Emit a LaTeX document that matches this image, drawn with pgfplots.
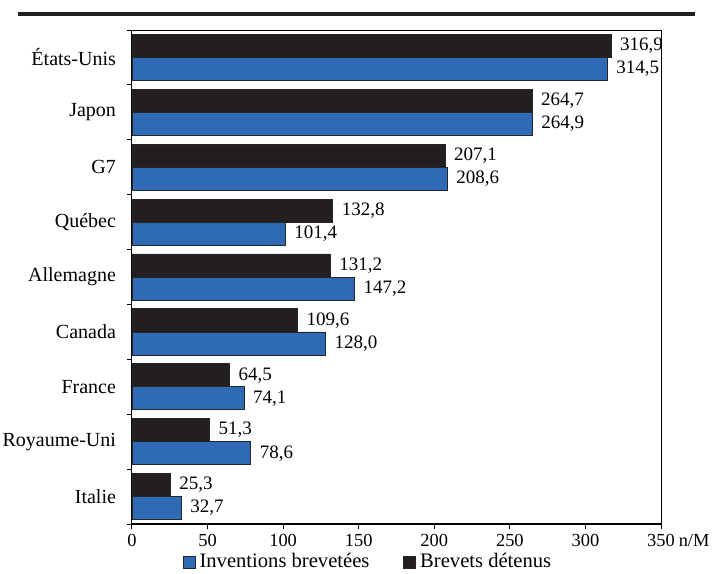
\documentclass[border=0pt]{standalone}
\usepackage{fontspec}
\setmainfont{Liberation Serif}
\usepackage{pgfplots}
\pgfplotsset{compat=1.18}
\definecolor{barblue}{RGB}{47,106,182}
\definecolor{barblack}{RGB}{35,31,32}

% one row per country, top to bottom
\pgfplotstableread{
pos inventions brevets
0 314.5 316.9
1 264.9 264.7
2 208.6 207.1
3 101.4 132.8
4 147.2 131.2
5 128.0 109.6
6 74.1 64.5
7 78.6 51.3
8 32.7 25.3
}\patents

\begin{document}
\begin{tikzpicture}
\useasboundingbox (0pt,0pt) rectangle (356pt,286.5pt);
\draw[line width=2pt, barblack] (9pt,279.5pt) -- (347.5pt,279.5pt);
\begin{axis}[
    at={(66pt,24.5pt)}, anchor=south west,
    scale only axis, width=264.5pt, height=247pt,
    xbar,
    legend image code/.code={\draw[#1,draw=black!85,line width=0.4pt] (0pt,-3pt) rectangle (6pt,3pt);},
    bar width=0.42,
    xmin=0, xmax=350, ymin=-0.5, ymax=8.5,
    y dir=reverse,
    font=\fontsize{10}{12}\selectfont,
    xtick={0,50,...,350},
    xticklabels={0,50,100,150,200,250,300,{350\rlap{\hspace{2pt}n/M}}},
    xticklabel style={font=\fontsize{9.2}{11}\selectfont, yshift=1pt},
    ytick={0,...,8},
    yticklabels={États-Unis,Japon,G7,Québec,Allemagne,Canada,France,Royaume-Uni,Italie},
    minor ytick={-0.5,0.5,...,8.5},
    xtick pos=bottom, ytick pos=left,
    tick align=outside,
    major tick length=2.5pt, minor tick length=2.5pt,
    major y tick style={draw=none},
    minor y tick style={black, line width=0.5pt},
    major x tick style={black, line width=0.5pt},
    axis line style={line width=0.5pt},
    yticklabel style={xshift=-2pt},
    nodes near coords={\pgfmathprintnumber[assume math mode=true,use comma,fixed,fixed zerofill,precision=1]{\pgfplotspointmeta}},
    every node near coord/.append style={font=\fontsize{9.5}{10}\selectfont, anchor=west, xshift=1pt},
    legend style={at={(0.448,-0.077)}, anchor=center, draw=none, fill=none,
        legend columns=2, font=\fontsize{10.3}{12}\selectfont, inner sep=0pt,
        /tikz/every even column/.append style={column sep=15pt}},
]
\addplot[fill=barblue, draw=black!85, line width=0.4pt, bar shift=0.21] table[x=inventions, y=pos] {\patents};
\addlegendentry{Inventions brevetées}
\addplot[fill=barblack, draw=black!85, line width=0.4pt, bar shift=-0.21] table[x=brevets, y=pos] {\patents};
\addlegendentry{Brevets détenus}
\draw[line width=1pt] (rel axis cs:0,0) -- (rel axis cs:1,0);
\end{axis}
\end{tikzpicture}
\end{document}
